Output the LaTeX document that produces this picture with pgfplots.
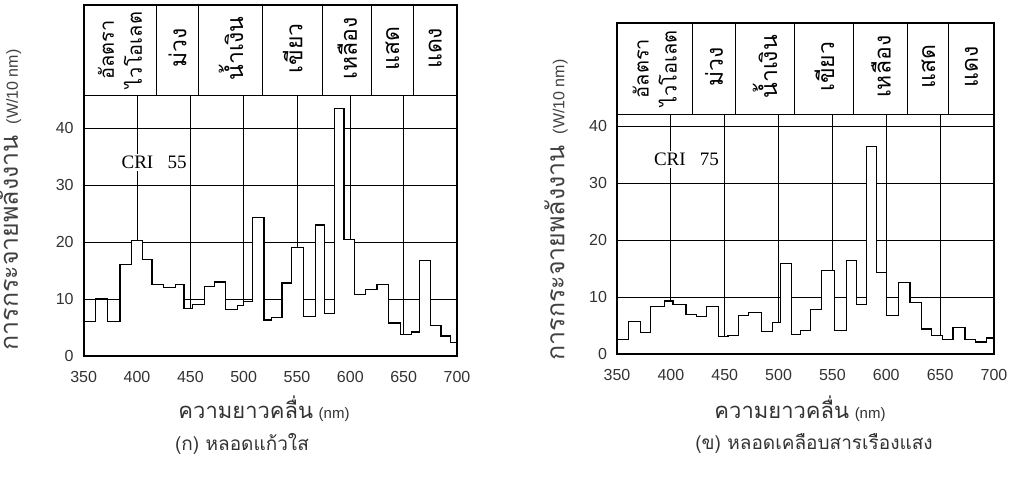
\documentclass[border=0pt]{standalone}
\usepackage{fontspec}
\setmainfont{Liberation Sans}
\newfontfamily\thai[Script=Thai]{Loma}
\newfontfamily\serif{Liberation Serif}
\usepackage{pgfplots}
\pgfplotsset{compat=1.18}
\pgfplotsset{
  myax/.style={
    scale only axis, xmin=350, xmax=700, ymin=0, clip=false,
    xtick={350,400,...,700}, ytick={0,10,...,40},
    ymajorgrids, grid style={black, line width=0.5pt},
    major tick length=0pt,
    axis line style={black, line width=0.8pt},
    tick label style={font=\fontsize{8}{9}\selectfont, text=black!80},
    /pgf/number format/assume math mode=true,
    xticklabel style={yshift=-4pt},
    yticklabel style={xshift=-1.5pt},
  },
}
\tikzset{
  hdr/.style={rotate=90, align=center, font=\thai\fontsize{11.5}{15}\selectfont},
  hdruv/.style={rotate=90, align=center, font=\thai\fontsize{10}{14}\selectfont},
  gl/.style={black, line width=0.5pt},
}
\begin{document}
\begin{tikzpicture}
\path[use as bounding box] (0pt,0pt) rectangle (512pt,243pt);
% ---------------- left panel ----------------
\begin{axis}[myax, at={(41.85pt,65pt)}, width=186.65pt, height=175.5pt, ymax=61.6]
\foreach \v in {400,450,...,650} {\edef\tmp{\noexpand\draw[gl] (axis cs:\v,0) -- (axis cs:\v,45.8);}\tmp}
\addplot[const plot, fill=white, draw=black, line width=0.6pt] coordinates {
(350,6)(361,10)(372,6)(384,16)(395,20.3)(405,17)(414,12.5)(425,12)(436,12.5)(444,8.3)(452,9)(463,12.2)(473,13)(483,8.2)(494,8.8)(500,9.5)(508,24.3)(519,6.3)(526,6.8)(536,12.8)(545,19)(556,7)(567,23)(576,7.5)(585,43.5)(594,20.5)(604,10.8)(614,11.6)(625,12.5)(636,5.8)(647,3.8)(657,4.2)(665,16.8)(675,5.4)(685,3.5)(694,2.3)(700,2.3)
} \closedcycle;
\node[fill=white, inner sep=1pt, font=\serif\fontsize{9.5}{10}\selectfont] at (axis cs:416,34) {CRI\ \ \ 55};
\draw[gl] (axis cs:350,45.8) -- (axis cs:700,45.8);
\foreach \v in {418,458,518,574,620,659} {\edef\tmp{\noexpand\draw[gl] (axis cs:\v,45.8) -- (axis cs:\v,61.6);}\tmp}
\node[hdruv] at (axis cs:384,53.7) {อัลตรา\\ไวโอเลต};
\node[hdr] at (axis cs:438,54) {ม่วง};
\node[hdr] at (axis cs:488,54) {น้ำเงิน};
\node[hdr] at (axis cs:546,54) {เขียว};
\node[hdr] at (axis cs:597,54) {เหลือง};
\node[hdr] at (axis cs:639.5,54) {แสด};
\node[hdr] at (axis cs:679.5,54) {แดง};
\draw[black, line width=0.8pt] (rel axis cs:0,0) rectangle (rel axis cs:1,1);
\end{axis}
% ---------------- right panel ----------------
\begin{axis}[myax, at={(308.5pt,66pt)}, width=188.5pt, height=165.5pt, ymax=58.1]
\foreach \v in {400,450,...,650} {\edef\tmp{\noexpand\draw[gl] (axis cs:\v,0) -- (axis cs:\v,42.1);}\tmp}
\addplot[const plot, fill=white, draw=black, line width=0.6pt] coordinates {
(350,2.5)(361,5.7)(372,3.8)(381,8.4)(394,9.3)(402,8.7)(414,7.0)(424,6.6)(433,8.4)(444,3.1)(453,3.3)(463,6.8)(472,7.3)(484,3.9)(494,5.5)(502,15.9)(512,3.4)(520,4.1)(530,7.8)(540,14.6)(552,4.1)(563,16.4)(572,8.7)(582,36.4)(591,14.3)(600,6.7)(611,12.5)(622,9.0)(633,4.4)(642,3.2)(652,2.5)(662,4.7)(673,2.5)(683,2.1)(693,2.8)(700,2.8)
} \closedcycle;
\node[fill=white, inner sep=1pt, font=\serif\fontsize{9.5}{10}\selectfont] at (axis cs:414.5,34.2) {CRI\ \ \ 75};
\draw[gl] (axis cs:350,42.1) -- (axis cs:700,42.1);
\foreach \v in {420,460,515,570,620,658} {\edef\tmp{\noexpand\draw[gl] (axis cs:\v,42.1) -- (axis cs:\v,58.1);}\tmp}
\node[hdruv] at (axis cs:385,50.1) {อัลตรา\\ไวโอเลต};
\node[hdr] at (axis cs:440,50.4) {ม่วง};
\node[hdr] at (axis cs:487.5,50.4) {น้ำเงิน};
\node[hdr] at (axis cs:542.5,50.4) {เขียว};
\node[hdr] at (axis cs:595,50.4) {เหลือง};
\node[hdr] at (axis cs:639,50.4) {แสด};
\node[hdr] at (axis cs:679,50.4) {แดง};
\draw[black, line width=0.8pt] (rel axis cs:0,0) rectangle (rel axis cs:1,1);
\end{axis}
% ---------------- labels ----------------
\node[rotate=90, text=black!75] at (4.8pt,143pt) {{\thai\fontsize{12.5}{14}\selectfont การกระจายพลังงาน}\ \ {\fontsize{8}{9}\selectfont (W/10 nm)}};
\node[rotate=90, text=black!75] at (278pt,138pt) {{\thai\fontsize{12.5}{14}\selectfont การกระจายพลังงาน}\ \ {\fontsize{8}{9}\selectfont (W/10 nm)}};
\node[text=black!80] at (132pt,38.5pt) {{\thai\fontsize{11}{13}\selectfont ความยาวคลื่น}\ {\fontsize{7.5}{9}\selectfont (nm)}};
\node[text=black!80] at (400pt,38.5pt) {{\thai\fontsize{11}{13}\selectfont ความยาวคลื่น}\ {\fontsize{7.5}{9}\selectfont (nm)}};
\node[text=black!80, font=\thai\fontsize{9.5}{11}\selectfont] at (121pt,21pt) {(ก) หลอดแก้วใส};
\node[text=black!80, font=\thai\fontsize{9.5}{11}\selectfont] at (407pt,21pt) {(ข) หลอดเคลือบสารเรืองแสง};
\end{tikzpicture}
\end{document}
